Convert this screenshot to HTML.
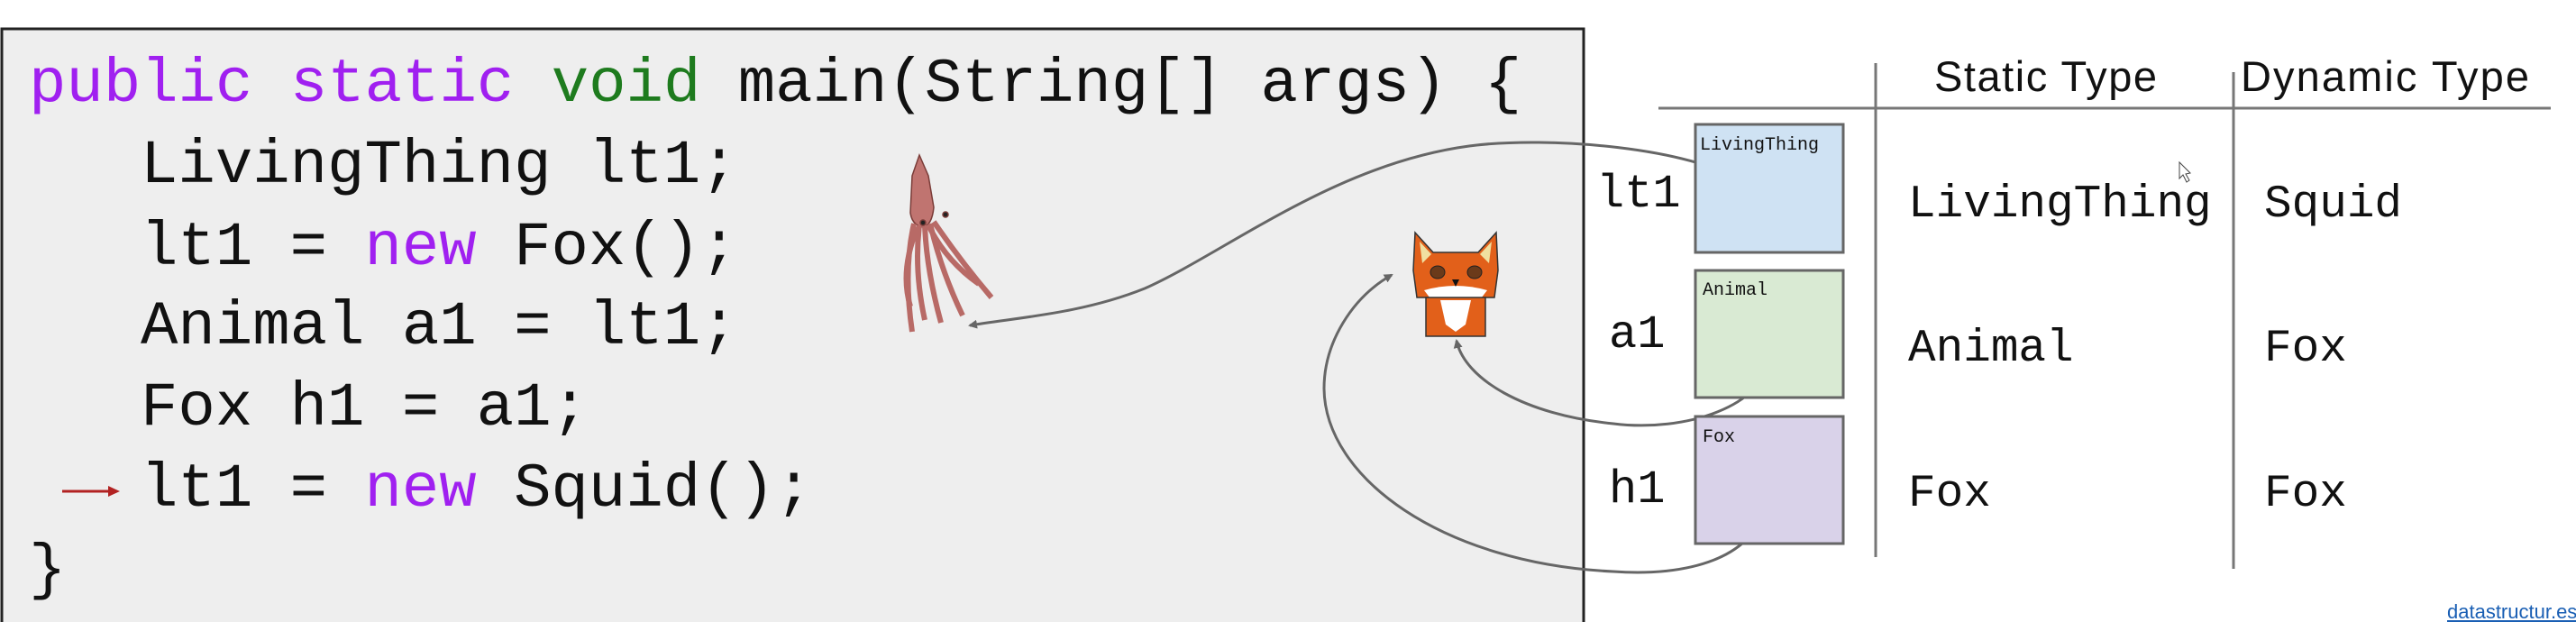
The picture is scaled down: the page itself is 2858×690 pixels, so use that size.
<!DOCTYPE html>
<html><head><meta charset="utf-8"><style>
html,body{margin:0;padding:0;background:#fff;}
svg{display:block;}
.mono{font-family:"Liberation Mono",monospace;}
.sans{font-family:"Liberation Sans",sans-serif;}
</style></head><body>
<svg width="2858" height="690" viewBox="0 0 2858 690" xmlns="http://www.w3.org/2000/svg">
<defs>
<marker id="ah" markerWidth="10" markerHeight="10" refX="8" refY="5" orient="auto" markerUnits="userSpaceOnUse" viewBox="0 0 10 10">
<path d="M0,0 L10,5 L0,10 z" fill="#666"/>
</marker>
</defs>
<rect x="0" y="0" width="2858" height="690" fill="#fff"/>
<rect x="2" y="32" width="1755" height="670" fill="#eeeeee" stroke="#222" stroke-width="3"/>

<g class="mono" font-size="69" fill="#111">
<text x="32" y="112"><tspan fill="#a020f0">public static</tspan> <tspan fill="#1e7b1e">void</tspan> main(String[] args) {</text>
<text x="156" y="202">LivingThing lt1;</text>
<text x="156" y="293">lt1 = <tspan fill="#a020f0">new</tspan> Fox();</text>
<text x="156" y="381">Animal a1 = lt1;</text>
<text x="156" y="471">Fox h1 = a1;</text>
<text x="156" y="561">lt1 = <tspan fill="#a020f0">new</tspan> Squid();</text>
<text x="32" y="651">}</text>
</g>
<line x1="69" y1="545" x2="122" y2="545" stroke="#b22222" stroke-width="3"/>
<path d="M120,539 L133,545 L120,551 z" fill="#b22222"/>

<!-- squid -->
<g stroke="#7a3c38" stroke-width="1.5" fill="#c07470">
<path d="M1020,172 L1030,195 L1036,230 Q1034,250 1024,252 Q1012,250 1010,236 L1012,195 z"/>
<g fill="none" stroke="#b86a66" stroke-width="6">
<path d="M1014,248 Q1002,300 1012,368"/>
<path d="M1020,250 Q1014,300 1026,355"/>
<path d="M1026,250 Q1028,300 1044,358"/>
<path d="M1032,248 Q1044,300 1068,350"/>
<path d="M1036,246 Q1066,290 1100,330"/>
<path d="M1018,252 Q998,300 1010,340"/>
<path d="M1030,250 Q1050,290 1086,315"/>
</g>
<circle cx="1024" cy="247" r="3" fill="#222"/><circle cx="1049" cy="238" r="3" fill="#222"/>
</g>

<!-- fox -->
<g>
<path d="M1570,258 L1590,280 L1640,280 L1660,258 L1662,300 L1658,330 L1572,330 L1568,300 z" fill="#e2601a" stroke="#333" stroke-width="1.5"/>
<path d="M1575,268 L1588,282 L1578,292 z M1655,268 L1642,282 L1652,292 z" fill="#f0e0a0"/>
<ellipse cx="1595" cy="302" rx="8" ry="7" fill="#6b3a1a" stroke="#222"/>
<ellipse cx="1636" cy="302" rx="8" ry="7" fill="#6b3a1a" stroke="#222"/>
<path d="M1580,322 Q1615,312 1650,322 L1640,335 L1590,335 z" fill="#fff"/>
<path d="M1611,310 L1619,310 L1615,318 z" fill="#111"/>
<rect x="1582" y="330" width="66" height="43" fill="#e2601a" stroke="#333" stroke-width="1.5"/>
<path d="M1598,333 L1632,333 L1626,360 L1615,368 L1604,360 z" fill="#fff"/>
</g>

<!-- connectors -->
<g fill="none" stroke="#666" stroke-width="3">
<path d="M1932,202 C1880,165 1720,150 1630,162 C1480,182 1360,280 1270,320 C1200,348 1130,352 1076,361" marker-end="url(#ah)"/>
<path d="M1962,396 C1960,450 1870,480 1790,470 C1690,460 1625,420 1616,378" marker-end="url(#ah)"/>
<path d="M1958,557 C1950,620 1870,640 1790,634 C1600,625 1470,530 1469,431 C1469,380 1500,330 1544,305" marker-end="url(#ah)"/>
</g>

<!-- table -->
<g stroke="#777" stroke-width="3">
<line x1="1840" y1="120" x2="2830" y2="120"/>
<line x1="2081" y1="70" x2="2081" y2="618"/>
<line x1="2478" y1="80" x2="2478" y2="631"/>
</g>
<g class="sans" font-size="47" fill="#111">
<text x="2146" y="101" textLength="247">Static Type</text>
<text x="2486" y="101" textLength="320">Dynamic Type</text>
</g>

<rect x="1881" y="138" width="164" height="142" fill="#cfe2f3" stroke="#666" stroke-width="3"/>
<rect x="1881" y="300" width="164" height="141" fill="#d9ead3" stroke="#666" stroke-width="3"/>
<rect x="1881" y="462" width="164" height="141" fill="#d9d2e9" stroke="#666" stroke-width="3"/>
<g class="mono" font-size="20" fill="#111">
<text x="1886" y="166">LivingThing</text>
<text x="1889" y="327">Animal</text>
<text x="1889" y="490">Fox</text>
</g>

<g class="mono" font-size="52" fill="#111">
<text x="1771" y="229">lt1</text>
<text x="1785" y="385">a1</text>
<text x="1785" y="557">h1</text>
</g>
<g class="mono" font-size="51" fill="#111">
<text x="2117" y="240">LivingThing</text>
<text x="2512" y="240">Squid</text>
<text x="2117" y="400">Animal</text>
<text x="2512" y="400">Fox</text>
<text x="2117" y="561">Fox</text>
<text x="2512" y="561">Fox</text>
</g>
<path d="M2418,180 L2418,198 L2422,194 L2426,202 L2429,200 L2425,193 L2430,192 z" fill="#fff" stroke="#444" stroke-width="1"/>
<text x="2715" y="686" class="sans" font-size="22" fill="#1a5fb4" text-decoration="underline">datastructur.es</text>
</svg>
</body></html>
